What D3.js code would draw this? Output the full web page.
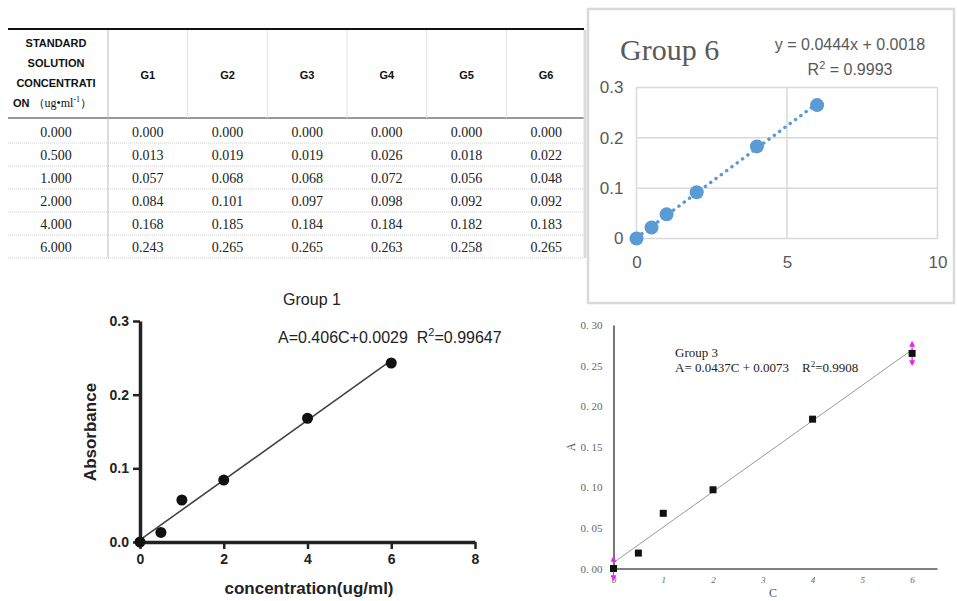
<!DOCTYPE html>
<html>
<head>
<meta charset="utf-8">
<script src="https://cdn.jsdelivr.net/npm/d3@7"></script>
<style>
  body { margin: 0; background: #fff; }
  svg { display: block; }
  text { white-space: pre; }
</style>
</head>
<body>
<svg id="chart" width="957" height="601"></svg>
<script>
// standard solution data (from the table)
var concentration = [0, 0.5, 1, 2, 4, 6];
var groupNames = ["G1", "G2", "G3", "G4", "G5", "G6"];
var absG1 = [0, 0.013, 0.057, 0.084, 0.168, 0.243];
var absG2 = [0, 0.019, 0.068, 0.101, 0.185, 0.265];
var absG3 = [0, 0.019, 0.068, 0.097, 0.184, 0.265];
var absG4 = [0, 0.026, 0.072, 0.098, 0.184, 0.263];
var absG5 = [0, 0.018, 0.056, 0.092, 0.182, 0.258];
var absG6 = [0, 0.022, 0.048, 0.092, 0.183, 0.265];
var headerLines = ["STANDARD", "SOLUTION", "CONCENTRATI"];

// fitted lines [slope, intercept]
var fit1 = [0.0406, 0.0029];
var fit3 = [0.0437, 0.0073];
var fit6 = [0.0444, 0.0018];
var g3Err = [0.012, 0, 0, 0, 0, 0.012];

// tick values
var g1XTicks = [0, 2, 4, 6, 8];
var g1YTicks = [0, 0.1, 0.2, 0.3];
var g3XTicks = [0, 1, 2, 3, 4, 5, 6];
var g3YTicks = [0, 0.05, 0.1, 0.15, 0.2, 0.25, 0.3];
var g6XTicks = [0, 5, 10];
var g6YTicks = [0, 0.1, 0.2, 0.3];

var columns = [absG1, absG2, absG3, absG4, absG5, absG6];
var svg = d3.select("#chart");
var f3 = d3.format(".3f");

// ---------- table ----------
var table = svg.append("g");
var colX = d3.scaleBand().domain(groupNames).range([108, 586]);
var rowY = d3.scaleBand().domain(d3.range(concentration.length)).range([120, 258]);
var firstColX = 56;

table.append("line")
  .attr("x1", 8).attr("x2", 584).attr("y1", 29).attr("y2", 29)
  .style("stroke", "#111").style("stroke-width", 2);
table.append("line")
  .attr("x1", 8).attr("x2", 584).attr("y1", 118).attr("y2", 118)
  .style("stroke", "#777").style("stroke-width", 1.5);
table.append("line")
  .attr("x1", 585).attr("x2", 585).attr("y1", 30).attr("y2", 258)
  .style("stroke", "#ddd").style("stroke-width", 3);

// vertical separators
table.append("line")
  .attr("x1", 108).attr("x2", 108).attr("y1", 30).attr("y2", 258)
  .style("stroke", "#bbb").style("stroke-width", 1);
table.selectAll("line.vsep")
  .data(groupNames.slice(1))
  .enter()
  .append("line")
  .attr("class", "vsep")
  .attr("x1", function (d) { return colX(d); })
  .attr("x2", function (d) { return colX(d); })
  .attr("y1", 30).attr("y2", 118)
  .style("stroke", "#e2e2e2").style("stroke-width", 1);

// dotted row separators
table.selectAll("line.rsep")
  .data(d3.range(concentration.length))
  .enter()
  .append("line")
  .attr("class", "rsep")
  .attr("x1", 8).attr("x2", 584)
  .attr("y1", function (d) { return rowY(d) + rowY.bandwidth(); })
  .attr("y2", function (d) { return rowY(d) + rowY.bandwidth(); })
  .style("stroke", "#cfcfcf").style("stroke-width", 1)
  .style("stroke-dasharray", "1,1");

// header
table.selectAll("text.hline")
  .data(headerLines)
  .enter()
  .append("text")
  .attr("class", "hline")
  .attr("x", firstColX)
  .attr("y", function (d, i) { return 47 + i * 20; })
  .attr("text-anchor", "middle")
  .style("font", "bold 11px 'Liberation Sans', Arial, sans-serif")
  .style("fill", "#111")
  .text(function (d) { return d; });

var unit = table.append("text")
  .attr("x", 13).attr("y", 107)
  .style("fill", "#111");
unit.append("tspan").style("font", "bold 11px 'Liberation Sans', Arial, sans-serif").text("ON ");
unit.append("tspan").style("font", "12px 'Liberation Serif', serif").text("（ug•ml");
unit.append("tspan").style("font", "8px 'Liberation Serif', serif").attr("dy", -5).text("-1");
unit.append("tspan").style("font", "12px 'Liberation Serif', serif").attr("dy", 5).text("）");

table.selectAll("text.gname")
  .data(groupNames)
  .enter()
  .append("text")
  .attr("class", "gname")
  .attr("x", function (d) { return colX(d) + colX.bandwidth() / 2; })
  .attr("y", 79)
  .attr("text-anchor", "middle")
  .style("font", "bold 11px 'Liberation Sans', Arial, sans-serif")
  .style("fill", "#111")
  .text(function (d) { return d; });

// body
table.selectAll("text.conc")
  .data(concentration)
  .enter()
  .append("text")
  .attr("class", "conc")
  .attr("x", firstColX)
  .attr("y", function (d, i) { return rowY(i) + rowY.bandwidth() / 2 + 5; })
  .attr("text-anchor", "middle")
  .style("font", "14px 'Liberation Serif', 'Times New Roman', serif")
  .style("fill", "#222")
  .text(function (d) { return f3(d); });

columns.forEach(function (col, c) {
  table.selectAll("text.v" + c)
    .data(col)
    .enter()
    .append("text")
    .attr("class", "v" + c)
    .attr("x", colX(groupNames[c]) + colX.bandwidth() / 2)
    .attr("y", function (d, i) { return rowY(i) + rowY.bandwidth() / 2 + 5; })
    .attr("text-anchor", "middle")
    .style("font", "14px 'Liberation Serif', 'Times New Roman', serif")
    .style("fill", "#222")
    .text(function (d) { return f3(d); });
});

// ---------- Group 6 (excel style) ----------
var g6 = svg.append("g");
g6.append("rect")
  .attr("x", 588).attr("y", 9).attr("width", 366).attr("height", 294)
  .style("fill", "#fff").style("stroke", "#d9d9d9").style("stroke-width", 2.5);

var x6 = d3.scaleLinear().domain([0, 10]).range([636.5, 937.5]);
var y6 = d3.scaleLinear().domain([0, 0.3]).range([238.5, 87.5]);

g6.selectAll("line.gy")
  .data(g6YTicks)
  .enter()
  .append("line")
  .attr("class", "gy")
  .attr("x1", x6(0)).attr("x2", x6(10))
  .attr("y1", function (d) { return y6(d); })
  .attr("y2", function (d) { return y6(d); })
  .style("stroke", "#d9d9d9").style("stroke-width", 1.5);
g6.selectAll("line.gx")
  .data(g6XTicks)
  .enter()
  .append("line")
  .attr("class", "gx")
  .attr("y1", y6(0)).attr("y2", y6(0.3))
  .attr("x1", function (d) { return x6(d); })
  .attr("x2", function (d) { return x6(d); })
  .style("stroke", "#d9d9d9").style("stroke-width", 1.5);

var ax6 = g6.append("g")
  .attr("transform", "translate(0," + y6(0) + ")")
  .call(d3.axisBottom(x6).tickValues(g6XTicks).tickSize(0).tickPadding(17).tickFormat(d3.format("d")));
var ay6 = g6.append("g")
  .attr("transform", "translate(" + x6(0) + ",0)")
  .call(d3.axisLeft(y6).tickValues(g6YTicks).tickSize(0).tickPadding(13)
    .tickFormat(function (d) { return d === 0 ? "0" : d3.format(".1f")(d); }));
[ax6, ay6].forEach(function (a) {
  a.select(".domain").remove();
  a.selectAll("text")
    .style("font", "17px 'Liberation Sans', Arial, sans-serif")
    .style("fill", "#595959");
});

var line6 = d3.line()
  .x(function (d) { return x6(d); })
  .y(function (d) { return y6(fit6[0] * d + fit6[1]); });
g6.append("path")
  .attr("d", line6([0, 6]))
  .style("fill", "none")
  .style("stroke", "#5b9bd5")
  .style("stroke-width", 3.5)
  .style("stroke-linecap", "round")
  .style("stroke-dasharray", "0.1,6.5");

g6.selectAll("circle")
  .data(concentration)
  .enter()
  .append("circle")
  .attr("cx", function (d) { return x6(d); })
  .attr("cy", function (d, i) { return y6(absG6[i]); })
  .attr("r", 7)
  .style("fill", "#5b9bd5");

g6.append("text")
  .attr("x", 620).attr("y", 60)
  .style("font", "30px 'Liberation Serif', 'Times New Roman', serif")
  .style("fill", "#595959")
  .text("Group 6");
g6.append("text")
  .attr("x", 850).attr("y", 50)
  .attr("text-anchor", "middle")
  .style("font", "16px 'Liberation Sans', Arial, sans-serif")
  .style("fill", "#595959")
  .text("y = 0.0444x + 0.0018");
var r6 = g6.append("text")
  .attr("x", 850).attr("y", 75)
  .attr("text-anchor", "middle")
  .style("font", "16px 'Liberation Sans', Arial, sans-serif")
  .style("fill", "#595959");
r6.append("tspan").text("R");
r6.append("tspan").attr("dy", -6).style("font-size", "11px").text("2");
r6.append("tspan").attr("dy", 6).text(" = 0.9993");

// ---------- Group 1 (prism style) ----------
var g1 = svg.append("g");
var x1 = d3.scaleLinear().domain([0, 8]).range([140, 475]);
var y1 = d3.scaleLinear().domain([0, 0.3]).range([542, 321]);

var ax1 = g1.append("g")
  .attr("transform", "translate(0," + y1(0) + ")")
  .call(d3.axisBottom(x1).tickValues(g1XTicks).tickSize(7).tickSizeOuter(0).tickPadding(5).tickFormat(d3.format("d")));
var ay1 = g1.append("g")
  .attr("transform", "translate(" + x1(0) + ",0)")
  .call(d3.axisLeft(y1).tickValues(g1YTicks).tickSize(7).tickSizeOuter(0).tickPadding(4).tickFormat(d3.format(".1f")));
[ax1, ay1].forEach(function (a) {
  a.select(".domain").style("stroke", "#222").style("stroke-width", 3.5);
  a.selectAll(".tick line").style("stroke", "#222").style("stroke-width", 2.5);
  a.selectAll("text")
    .style("font", "bold 14px 'Liberation Sans', Arial, sans-serif")
    .style("fill", "#222");
});

var line1 = d3.line()
  .x(function (d) { return x1(d); })
  .y(function (d) { return y1(fit1[0] * d + fit1[1]); });
g1.append("path")
  .attr("d", line1([0, 6]))
  .style("fill", "none")
  .style("stroke", "#444")
  .style("stroke-width", 1.6);

g1.selectAll("circle")
  .data(concentration)
  .enter()
  .append("circle")
  .attr("cx", function (d) { return x1(d); })
  .attr("cy", function (d, i) { return y1(absG1[i]); })
  .attr("r", 5.5)
  .style("fill", "#111");

g1.append("text")
  .attr("x", 312).attr("y", 305)
  .attr("text-anchor", "middle")
  .style("font", "16px 'Liberation Sans', Arial, sans-serif")
  .style("fill", "#222")
  .text("Group 1");
var e1 = g1.append("text")
  .attr("x", 278).attr("y", 343)
  .style("font", "16px 'Liberation Sans', Arial, sans-serif")
  .style("fill", "#222");
e1.append("tspan").text("A=0.406C+0.0029  R");
e1.append("tspan").attr("dy", -7).style("font-size", "11px").text("2");
e1.append("tspan").attr("dy", 7).text("=0.99647");

g1.append("text")
  .attr("transform", "translate(96,432) rotate(-90)")
  .attr("text-anchor", "middle")
  .style("font", "bold 17px 'Liberation Sans', Arial, sans-serif")
  .style("fill", "#222")
  .text("Absorbance");
g1.append("text")
  .attr("x", 309).attr("y", 594)
  .attr("text-anchor", "middle")
  .style("font", "bold 17px 'Liberation Sans', Arial, sans-serif")
  .style("fill", "#222")
  .text("concentration(ug/ml)");

// ---------- Group 3 (origin style) ----------
var g3 = svg.append("g");
var x3 = d3.scaleLinear().domain([0, 6.5]).range([613.5, 937]);
var y3 = d3.scaleLinear().domain([0, 0.3]).range([568.5, 325]);

var ax3 = g3.append("g")
  .attr("transform", "translate(0," + y3(0) + ")")
  .call(d3.axisBottom(x3).tickValues(g3XTicks).tickSize(0).tickSizeOuter(0).tickPadding(8).tickFormat(d3.format("d")));
var ay3 = g3.append("g")
  .attr("transform", "translate(" + x3(0) + ",0)")
  .call(d3.axisLeft(y3).tickValues(g3YTicks).tickSize(0).tickSizeOuter(0).tickPadding(11)
    .tickFormat(function (d) { return d3.format(".2f")(d).replace(".", ". "); }));
[ax3, ay3].forEach(function (a) {
  a.select(".domain").style("stroke", "#555").style("stroke-width", 1.6);
});
ay3.selectAll("text")
  .style("font", "11px 'Liberation Serif', 'Times New Roman', serif")
  .style("fill", "#666");
ax3.selectAll("text")
  .style("font", "italic 9px 'Liberation Serif', 'Times New Roman', serif")
  .style("fill", "#666");

var line3 = d3.line()
  .x(function (d) { return x3(d); })
  .y(function (d) { return y3(fit3[0] * d + fit3[1]); });
g3.append("path")
  .attr("d", line3([0, 6]))
  .style("fill", "none")
  .style("stroke", "#999")
  .style("stroke-width", 1);

// magenta error bars
svg.append("defs").append("marker")
  .attr("id", "tri")
  .attr("viewBox", "0 0 6 6")
  .attr("refX", 3).attr("refY", 3)
  .attr("markerWidth", 5).attr("markerHeight", 5)
  .attr("orient", "auto-start-reverse")
  .append("path")
  .attr("d", "M0,0L6,3L0,6Z")
  .style("fill", "#ee22ee");
g3.selectAll("line.err")
  .data(concentration.filter(function (d, i) { return g3Err[i] > 0; }))
  .enter()
  .append("line")
  .attr("class", "err")
  .attr("x1", function (d) { return x3(d); })
  .attr("x2", function (d) { return x3(d); })
  .attr("y1", function (d) { var i = concentration.indexOf(d); return y3(absG3[i] - g3Err[i]); })
  .attr("y2", function (d) { var i = concentration.indexOf(d); return y3(absG3[i] + g3Err[i]); })
  .attr("marker-start", "url(#tri)")
  .attr("marker-end", "url(#tri)")
  .style("stroke", "#ee22ee")
  .style("stroke-width", 1.2);

g3.selectAll("rect.pt")
  .data(concentration)
  .enter()
  .append("rect")
  .attr("class", "pt")
  .attr("x", function (d) { return x3(d) - 3.5; })
  .attr("y", function (d, i) { return y3(absG3[i]) - 3.5; })
  .attr("width", 7).attr("height", 7)
  .style("fill", "#111");

g3.append("text")
  .attr("x", 675).attr("y", 357)
  .style("font", "13px 'Liberation Serif', 'Times New Roman', serif")
  .style("fill", "#222")
  .text("Group 3");
var e3 = g3.append("text")
  .attr("x", 675).attr("y", 372)
  .style("font", "13px 'Liberation Serif', 'Times New Roman', serif")
  .style("fill", "#222");
e3.append("tspan").text("A= 0.0437C + 0.0073    R");
e3.append("tspan").attr("dy", -5).style("font-size", "9px").text("2");
e3.append("tspan").attr("dy", 5).text("=0.9908");

g3.append("text")
  .attr("transform", "translate(575,447) rotate(-90)")
  .attr("text-anchor", "middle")
  .style("font", "12px 'Liberation Serif', 'Times New Roman', serif")
  .style("fill", "#555")
  .text("A");
g3.append("text")
  .attr("x", 773).attr("y", 597)
  .attr("text-anchor", "middle")
  .style("font", "12px 'Liberation Serif', 'Times New Roman', serif")
  .style("fill", "#555")
  .text("C");
</script>
</body>
</html>
